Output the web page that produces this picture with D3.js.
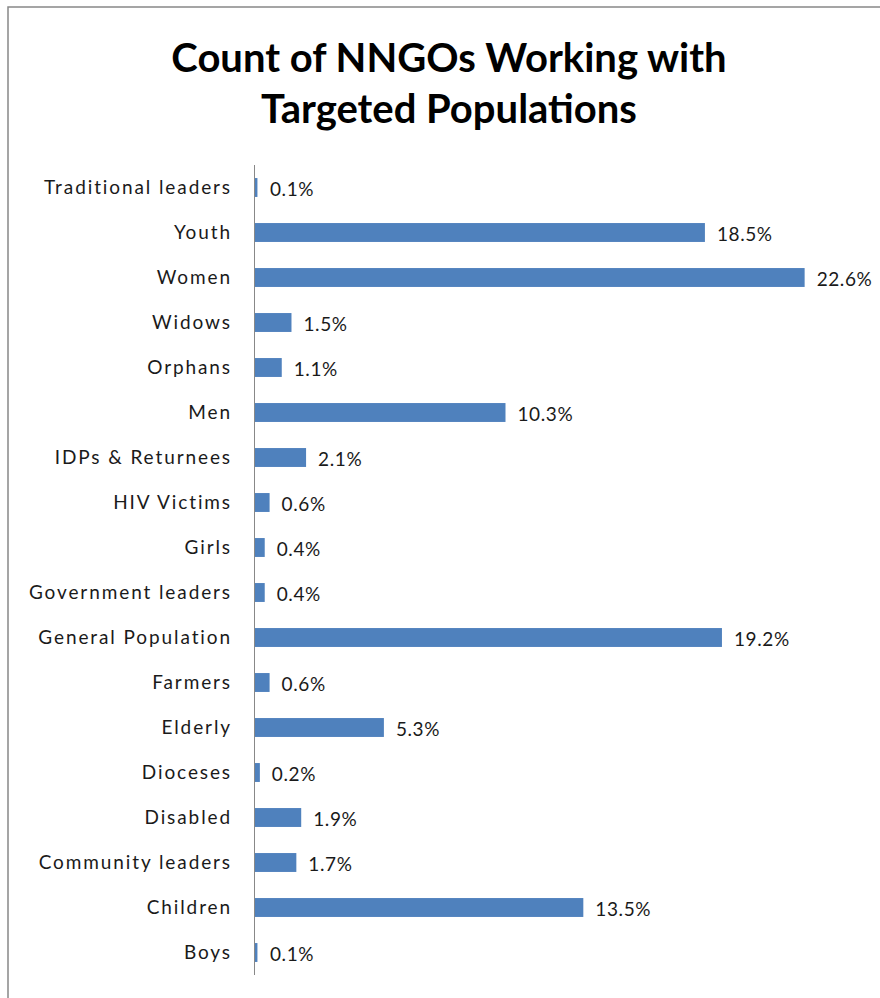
<!DOCTYPE html>
<html>
<head>
<meta charset="utf-8">
<script src="https://cdn.jsdelivr.net/npm/d3@7"></script>
<style>
  body { margin: 0; background: #fff; }
  text { font-family: Lato, "Open Sans", sans-serif; }
</style>
</head>
<body>
<div id="chart"></div>
<script>
// Target populations, top to bottom as shown
const categories = [
  'Traditional leaders', 'Youth', 'Women', 'Widows', 'Orphans', 'Men',
  'IDPs & Returnees', 'HIV Victims', 'Girls', 'Government leaders',
  'General Population', 'Farmers', 'Elderly', 'Dioceses', 'Disabled',
  'Community leaders', 'Children', 'Boys'
];
const shares = [
  0.1, 18.5, 22.6, 1.5, 1.1, 10.3,
  2.1, 0.6, 0.4, 0.4,
  19.2, 0.6, 5.3, 0.2, 1.9,
  1.7, 13.5, 0.1
];
const titleLines = ['Count of NNGOs Working with', 'Targeted Populations'];

const width = 880, height = 998;
const margin = {top: 165, right: 18, bottom: 23, left: 254};

const svg = d3.select('#chart').append('svg')
  .attr('width', width)
  .attr('height', height);

// chart frame (runs off the right and bottom edges)
svg.append('rect')
  .attr('x', 8).attr('y', 7)
  .attr('width', width + 20).attr('height', height + 20)
  .attr('fill', 'none')
  .attr('stroke', '#888')
  .attr('stroke-width', 1.5);

svg.append('g')
  .selectAll('text')
  .data(titleLines)
  .join('text')
  .attr('x', 449)
  .attr('y', (d, i) => 72 + i * 51)
  .attr('text-anchor', 'middle')
  .attr('font-size', 40)
  .attr('font-weight', 'bold')
  .attr('fill', '#000')
  .text(d => d);

const data = categories.map((c, i) => ({name: c, value: shares[i]}));

const xScale = d3.scaleLinear()
  .domain([0, 25])
  .range([margin.left, width - margin.right]);

const yScale = d3.scaleBand()
  .domain(categories)
  .range([margin.top, height - margin.bottom])
  .paddingInner(0.58)
  .paddingOuter(0.29);

const yAxis = d3.axisLeft(yScale)
  .tickSize(0)
  .tickPadding(22);

const yAxisG = svg.append('g')
  .attr('transform', `translate(${margin.left},0)`)
  .call(yAxis);

yAxisG.select('.domain')
  .attr('stroke', '#888')
  .attr('stroke-width', 1)
  .attr('d', `M0.5,${margin.top}V${height - margin.bottom}`);

yAxisG.selectAll('.tick text')
  .attr('font-size', 19)
  .attr('letter-spacing', 1.9)
  .attr('fill', '#1a1a1a')
  .attr('dy', '0.35em');

svg.append('g')
  .selectAll('rect')
  .data(data)
  .join('rect')
  .attr('x', xScale(0) + 1)
  .attr('y', d => yScale(d.name))
  .attr('width', d => Math.max(2, xScale(d.value) - xScale(0)))
  .attr('height', yScale.bandwidth())
  .attr('fill', '#4f81bd');

svg.append('g')
  .selectAll('text')
  .data(data)
  .join('text')
  .attr('x', d => Math.max(xScale(0) + 3, xScale(d.value)) + 13)
  .attr('y', d => yScale(d.name) + yScale.bandwidth() / 2 + 2)
  .attr('dy', '0.35em')
  .attr('font-size', 19)
  .attr('letter-spacing', 0.6)
  .attr('fill', '#1a1a1a')
  .text(d => d.value.toFixed(1) + '%');
</script>
</body>
</html>
